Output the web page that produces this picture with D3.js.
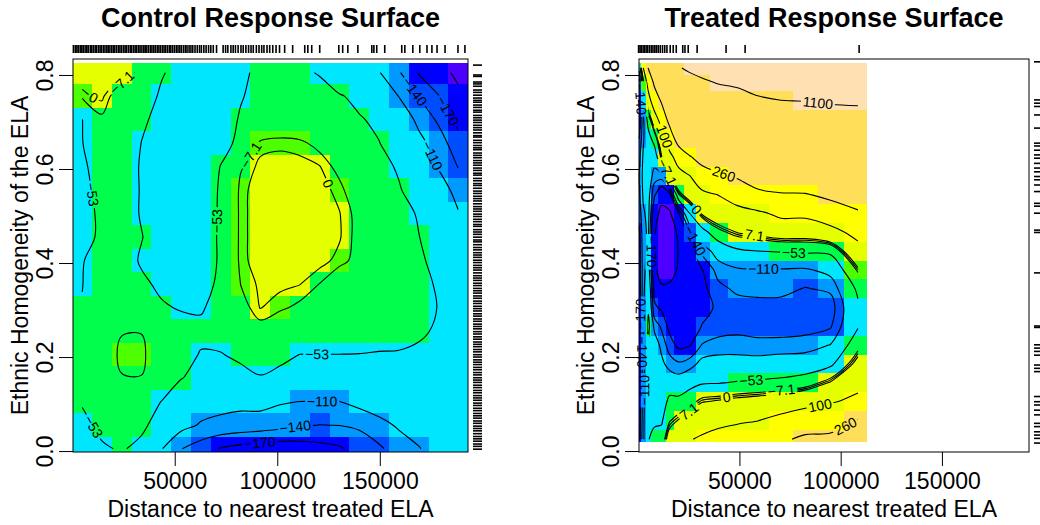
<!DOCTYPE html>
<html lang="en">
  <head>
    <meta charset="utf-8" />
    <title>Control and Treated Response Surfaces</title>
    <script src="https://d3js.org/d3.v7.min.js"></script>
    <style type="text/css">
      body { margin: 0; background: #fff; }
      svg { display: block; }
    </style>
  </head>
  <body>
    <script type="text/javascript">
      // contour levels drawn as lines, and the breaks of the colour bands
      const levels = [-230, -170, -140, -110, -53, -7.1, 0, 7.1, 100, 260, 1100];
      const breaks = [-230, -170, -140, -110, -53, -7.1, 0, 100, 260, 1100];
      const colours = ["#4D00FF", "#0000FF", "#004DFF", "#0099FF", "#00E6FF", "#00FF4D",
                       "#4DFF00", "#E6FF00", "#FFFF00", "#FFDE59", "#FFE0B3"];

      const xTicks = [50000, 100000, 150000];
      const yTicks = [0, 0.2, 0.4, 0.6, 0.8];

      // Control surface: grid columns (distance), rows (homogeneity, top to bottom)
      const controlX = [4900, 14500, 24200, 33800, 43500, 53100, 62800, 72400, 82100, 91700,
                        101400, 111000, 120700, 130300, 140000, 149600, 159300, 168900, 178600, 188200];
      const controlY = [0.805, 0.755, 0.705, 0.655, 0.605, 0.555, 0.505, 0.455, 0.405,
                        0.355, 0.305, 0.255, 0.205, 0.155, 0.105, 0.055, 0.005];
      const controlZ = [
        [5, 4, 2.5, -12, -50, -65, -72, -70, -60, -45, -30, -45, -56, -80, -100, -108, -137, -172, -205, -245],
        [-2, 2.5, -20, -35, -58, -68, -75, -72, -56, -40, -30, -30, -38, -50, -62, -80, -111, -141, -168, -215],
        [-53.5, -10, -25, -48, -62, -72, -78, -75, -49, -35, -25, -25, -30, -40, -50, -60, -85, -118, -145, -180],
        [-54, -28, -30, -53.5, -64, -74, -80, -65, -45, -4, -2, -4, -12, -28, -40, -52, -70, -100, -125, -158],
        [-58, -40, -35, -56, -68, -76, -80, -52, -9, 3, 4, 3.5, 0.5, -12, -30, -42, -57, -85, -112, -141],
        [-60, -45, -38, -55, -68, -77, -80, -48, -2.5, 4, 5, 5, 4, -3, -20, -35, -50, -70, -95, -120],
        [-62, -48, -40, -55, -68, -78, -80, -47, -2.5, 4.5, 5.5, 5.5, 4.5, 0.5, -12, -30, -40, -56, -80, -108],
        [-62, -48, -40, -52, -66, -78, -80, -46, -2.5, 4.5, 5.5, 5, 4.5, 1, -12, -30, -38, -52, -70, -90],
        [-54, -45, -40, -56, -66, -76, -78, -47, -2.5, 4, 5, 4.5, 3.5, -3, -12, -28, -36, -48, -62, -80],
        [-53.5, -40, -38, -48, -58, -68, -68, -45, -7, 2, 2.5, 0.3, -7.5, -20, -28, -32, -38, -45, -56, -70],
        [-52, -35, -33, -45, -50, -55, -56, -42, -14, 0.5, -5, -10, -15, -20, -25, -30, -34, -42, -54, -62],
        [-40, -28, -8.5, -8, -38, -42, -46, -38, -28, -14, -20, -25, -28, -30, -32, -35, -40, -47, -58, -66],
        [-38, -25, -1.5, -1, -30, -42, -55, -55, -45, -40, -45, -53.5, -53.5, -53.5, -54, -56, -56, -60, -65, -70],
        [-45, -30, -8.5, -8, -35, -52, -62, -68, -66, -55, -62, -66, -70, -70, -70, -72, -75, -78, -80, -80],
        [-50, -35, -25, -38, -53.5, -75, -95, -100, -102, -100, -107, -110.5, -110.5, -110.5, -100, -92, -85, -75, -70, -68],
        [-62, -45, -38, -46, -68, -100, -113, -118, -122, -125, -130, -138, -140.5, -139.5, -135, -120, -106, -95, -85, -80],
        [-62, -57, -50, -62, -108, -139, -155, -172, -180, -185, -188, -185, -180, -174, -158, -145, -125, -112, -95, -85]
      ];

      // Treated surface
      const treatedX = [500, 2500, 5000, 8000, 11500, 15500, 20000, 25500, 31500, 39500,
                        49000, 59000, 70500, 82500, 95000, 108500];
      const treatedY = [0.815, 0.785, 0.745, 0.705, 0.665, 0.625, 0.585, 0.545, 0.505, 0.465, 0.425,
                        0.385, 0.345, 0.305, 0.265, 0.225, 0.185, 0.145, 0.105, 0.065, 0.025];
      const treatedZ = [
        [-100, 100, 265, 400, 650, 850, 1080, 1150, 1200, 1230, 1250, 1290, 1290, 1280, 1250, 1250],
        [-150, -5, 150, 290, 480, 650, 920, 1000, 1060, 1120, 1150, 1220, 1240, 1230, 1220, 1200],
        [-175, -80, 50, 170, 275, 460, 720, 800, 880, 936, 987, 1055, 1095, 1105, 1130, 1125],
        [-185, -118, -30, 40, 150, 310, 530, 620, 690, 754, 810, 883, 917, 934, 966, 1030],
        [-170, -115, -75, -30, 40, 170, 340, 430, 510, 573, 633, 716, 749, 763, 800, 868],
        [-150, -105, -85, -90, 3, 65, 150, 245, 325, 392, 455, 546, 577, 590, 632, 704],
        [-140, -100, -85, -125, -125, 3, 60, 97, 176, 226, 278, 377, 406, 416, 464, 539],
        [-145, -105, -95, -165, -205, -185, -10, 36, 74, 101, 147, 208, 241, 247, 297, 375],
        [-160, -115, -100, -200, -250, -240, -172, -55, 11, 43, 65, 79, 121, 122, 170, 231],
        [-175, -120, -104, -225, -268, -255, -222, -145, -75, -20, 8, 20, 35, 33, 61, 134],
        [-185, -122, -100, -228, -272, -258, -228, -185, -132, -93, -62, -54, -50, -46, -43, 60],
        [-190, -122, -88, -215, -258, -245, -225, -205, -172, -128, -116, -114, -114, -116, -97, -2],
        [-195, -120, -75, -180, -220, -222, -220, -215, -180, -150, -133, -130, -131, -142, -134.5, -43.5],
        [-195, -118, -60, -165, -175, -200, -212, -212, -185, -163, -155, -152, -152, -159, -155, -62],
        [-190, -118, -40, -120, -145, -180, -200, -200, -168, -154, -152, -156, -155, -151, -143, -57],
        [-190, -120, -60, -85, -120, -155, -178, -172, -138, -129, -125, -129, -129, -127, -108, -20],
        [-195, -122, -65, -80, -100, -125, -135, -125, -97, -92, -95, -95, -88, -83.5, -63, 25],
        [-200, -122, -65, -78, -90, -80, -88, -70, -57, -55, -49, -45, -40, -27, 12, 66],
        [-200, -122, -62, -75, -80, -40, -38, -20, 5, 12, 22, 29, 42, 62, 90, 130],
        [-190, -120, -58, -60, -60, -10, 10, 35, 58, 70, 85, 98, 130, 170, 210, 265],
        [-180, -118, -55, -40, -30, 30, 60, 95, 113, 140, 160, 180, 235, 290, 285, 300]
      ];

      // rugs of the observed units
      const controlRugX = [600, 1500, 2300, 3000, 3900, 4700, 5400, 6300, 7100, 7800, 8800, 9500, 10300,
        11200, 11900, 12800, 13600, 14300, 15200, 16000, 16900, 17600, 18400, 19300, 20100, 20800, 21700,
        22600, 23300, 24100, 25000, 25800, 26500, 27400, 28300, 29000, 29900, 30700, 31500, 32400, 33100,
        34000, 34900, 35600, 36400, 37300, 38200, 38900, 39800, 40600, 41500, 42300, 43100, 44000, 44800,
        45600, 46500, 47400, 48100, 49000, 49900, 50800, 51600, 52500, 53300, 54300, 55200, 56000, 57000,
        57900, 58800, 59900, 61000, 62100, 63000, 64200, 65300, 66500, 67600, 68800, 70400,
        73600, 74800, 75900, 77400, 78500, 79600, 80900, 82300, 83400, 84700, 86000, 87200, 88300, 89800,
        91100, 92400, 93500, 95000, 96300, 97800, 99400, 101100, 103600, 107500, 113400, 114900, 116800,
        120700, 130000, 131900, 134400, 139300, 146100, 147100, 148500, 152400, 160700, 162200, 166100,
        169500, 173000, 175400, 177900, 181800, 188100, 191500];
      const controlRugY = [0.821, 0.800, 0.797, 0.785, 0.781, 0.776, 0.768, 0.763, 0.757, 0.751, 0.746,
        0.742, 0.736, 0.731, 0.725, 0.721, 0.714, 0.709, 0.704, 0.699, 0.693, 0.688, 0.683, 0.677, 0.671,
        0.668, 0.661, 0.656, 0.650, 0.645, 0.641, 0.634, 0.629, 0.624, 0.618, 0.613, 0.608, 0.602, 0.597,
        0.591, 0.587, 0.580, 0.575, 0.569, 0.565, 0.559, 0.553, 0.548, 0.542, 0.537, 0.532, 0.526, 0.520,
        0.515, 0.510, 0.504, 0.499, 0.493, 0.488, 0.482, 0.478, 0.471, 0.466, 0.461, 0.455, 0.449, 0.445,
        0.439, 0.433, 0.428, 0.422, 0.417, 0.412, 0.406, 0.401, 0.395, 0.390, 0.385, 0.379, 0.373, 0.368,
        0.363, 0.357, 0.352, 0.346, 0.341, 0.336, 0.330, 0.325, 0.319, 0.314, 0.308, 0.303, 0.298, 0.292,
        0.287, 0.281, 0.276, 0.270, 0.265, 0.260, 0.254, 0.249, 0.243, 0.238, 0.232, 0.227, 0.222, 0.216,
        0.211, 0.205, 0.200, 0.194, 0.189, 0.184, 0.178, 0.173, 0.167, 0.162, 0.156, 0.151, 0.146, 0.140,
        0.135, 0.129, 0.124, 0.118, 0.113, 0.108, 0.102, 0.097, 0.091, 0.086, 0.080, 0.075, 0.070, 0.064,
        0.059, 0.053, 0.048, 0.043, 0.037, 0.031, 0.026, 0.021, 0.015, 0.010, 0.004];
      const treatedRugX = [200, 900, 1500, 2400, 3100, 3900, 4700, 5600, 6500, 7300, 8200, 9000, 9900,
        10900, 12000, 13100, 14200, 15800, 17300, 18800, 22000, 23100, 24700, 29100, 43400, 52800, 109100];
      const treatedRugY = [0.828, 0.747, 0.740, 0.733, 0.715, 0.687, 0.655, 0.649, 0.640, 0.630, 0.623,
        0.612, 0.602, 0.594, 0.584, 0.577, 0.566, 0.552, 0.527, 0.521, 0.506, 0.470, 0.465, 0.379, 0.266,
        0.263, 0.226, 0.219, 0.212, 0.204, 0.183, 0.176, 0.169, 0.116, 0.105, 0.098, 0.087, 0.077, 0.059,
        0.052, 0.041, 0.034, 0.027, 0.017];

      const w = 1040;
      const h = 525;
      const font = '"Liberation Sans", Arial, Helvetica, sans-serif';
      const boxTop = 59;
      const boxBottom = 452;

      const colour = d3.scaleThreshold().domain(breaks).range(colours);
      const fmt = function (v) {
        return (v < 0 ? "\u2212" : "") + Math.abs(v);
      };

      const svg = d3.select("body").append("svg").attr("width", w).attr("height", h);
      const defs = svg.append("defs");

      const openLine = d3.line().curve(d3.curveCatmullRom.alpha(0.5));
      const closedLine = d3.line().curve(d3.curveCatmullRomClosed.alpha(0.5));

      // cut a contour ring at the grid border into open iso-lines
      function splitRing(ring, n, m) {
        let pts = ring.slice();
        const last = pts[pts.length - 1];
        if (pts.length > 1 && last[0] === pts[0][0] && last[1] === pts[0][1]) pts.pop();
        pts = pts.filter(function (p, i) {
          const q = pts[(i + pts.length - 1) % pts.length];
          return i === 0 || p[0] !== q[0] || p[1] !== q[1];
        });
        const onBorder = function (p) {
          return p[0] <= 0 || p[0] >= n || p[1] <= 0 || p[1] >= m;
        };
        const k = pts.findIndex(onBorder);
        if (k < 0) return [{ pts: pts, closed: true }];
        const rot = pts.slice(k).concat(pts.slice(0, k));
        const out = [];
        let cur = [];
        rot.forEach(function (p) {
          if (onBorder(p)) {
            if (cur.length > 1) out.push({ pts: cur, closed: false });
            cur = [];
          } else cur.push(p);
        });
        if (cur.length > 1) out.push({ pts: cur, closed: false });
        return out;
      }

      function textWidth(t, size) {
        const tmp = svg.append("text").attr("font-family", font).attr("font-size", size).text(t);
        const wd = tmp.node().getComputedTextLength();
        tmp.remove();
        return wd;
      }

      function drawPanel(p) {
        const x = d3.scaleLinear().domain([400, 193000]).range([p.left, p.right]);
        const y = d3.scaleLinear().domain([-0.002, 0.834]).range([boxBottom, boxTop]);
        const n = p.xs.length;
        const m = p.ys.length;
        const g = svg.append("g");

        // image cells
        const xe = [p.xExtent[0]];
        for (let i = 1; i < n; i++) xe.push((p.xs[i - 1] + p.xs[i]) / 2);
        xe.push(p.xExtent[1]);
        const ye = [p.yExtent[1]];
        for (let j = 1; j < m; j++) ye.push((p.ys[j - 1] + p.ys[j]) / 2);
        ye.push(p.yExtent[0]);
        const cells = [];
        p.z.forEach(function (row, j) {
          row.forEach(function (v, i) {
            cells.push({ i: i, j: j, v: v });
          });
        });
        g.append("g")
          .selectAll("rect")
          .data(cells)
          .join("rect")
          .attr("x", (d) => x(xe[d.i]))
          .attr("width", (d) => x(xe[d.i + 1]) - x(xe[d.i]))
          .attr("y", (d) => y(ye[d.j]))
          .attr("height", (d) => y(ye[d.j + 1]) - y(ye[d.j]))
          .attr("fill", (d) => colour(d.v))
          .attr("shape-rendering", "crispEdges");

        // contour lines
        const gx = d3.scaleLinear().domain(d3.range(n)).range(p.xs);
        const gy = d3.scaleLinear().domain(d3.range(m)).range(p.ys);
        const toPx = (q) => [x(gx(q[0] - 0.5)), y(gy(q[1] - 0.5))];
        const contours = d3.contours().size([n, m]).thresholds(levels)(p.z.flat());
        const lines = [];
        contours.forEach(function (c) {
          c.coordinates.forEach(function (poly) {
            poly.forEach(function (ring) {
              splitRing(ring, n, m).forEach(function (l) {
                lines.push({ value: c.value, closed: l.closed, pts: l.pts.map(toPx) });
              });
            });
          });
        });

        const mask = defs.append("mask").attr("id", "gap" + p.id)
          .attr("maskUnits", "userSpaceOnUse")
          .attr("x", 0).attr("y", 0).attr("width", w).attr("height", h);
        mask.append("rect").attr("width", w).attr("height", h).attr("fill", "#fff");

        const paths = g.append("g")
          .attr("mask", "url(#gap" + p.id + ")")
          .selectAll("path")
          .data(lines)
          .join("path")
          .attr("d", (d) => (d.closed ? closedLine : openLine)(d.pts))
          .attr("fill", "none")
          .attr("stroke", "#000")
          .attr("stroke-width", 1.1);

        // labels at the flattest part of each line
        const placed = [];
        const labelSize = 14;
        paths.each(function (d) {
          const node = this;
          const L = node.getTotalLength();
          const lw = textWidth(fmt(d.value), labelSize) + 4;
          if (L < (d.closed ? 5 : 1.5) * lw) return;
          const step = 2;
          const k = Math.ceil(lw / step);
          const s = d3.range(0, L, step).map((t) => node.getPointAtLength(t));
          const cands = [];
          for (let a = 0; a + k < s.length; a++) {
            const p0 = s[a], p1 = s[a + k];
            const dx = p1.x - p0.x, dy = p1.y - p0.y;
            const len = Math.hypot(dx, dy) || 1;
            let dev = 0;
            for (let b = a + 1; b < a + k; b++) {
              dev = Math.max(dev, Math.abs((s[b].x - p0.x) * dy - (s[b].y - p0.y) * dx) / len);
            }
            const mid = (a + k / 2) * step;
            cands.push({
              c: s[a + Math.round(k / 2)],
              ang: (Math.atan2(dy, dx) * 180) / Math.PI,
              score: dev + 0.5 * Math.abs(mid / L - 0.5),
              w: lw
            });
          }
          cands.sort((a, b) => a.score - b.score);
          const best = cands.find(function (q) {
            return placed.every(function (o) {
              return Math.hypot(o.c.x - q.c.x, o.c.y - q.c.y) > (o.w + q.w) / 2 + 2;
            });
          });
          if (!best) return;
          let ang = best.ang;
          if (ang > 90) ang -= 180;
          if (ang <= -90) ang += 180;
          placed.push(best);
          const tf = "translate(" + best.c.x + "," + best.c.y + ") rotate(" + ang + ")";
          mask.append("rect")
            .attr("x", -lw / 2).attr("y", -7).attr("width", lw).attr("height", 14)
            .attr("fill", "#000").attr("transform", tf);
          g.append("text")
            .attr("transform", tf)
            .attr("text-anchor", "middle")
            .attr("dy", "0.35em")
            .attr("font-family", font)
            .attr("font-size", labelSize)
            .attr("fill", "#000")
            .text(fmt(d.value));
        });

        // box
        svg.append("rect")
          .attr("x", p.left).attr("y", boxTop)
          .attr("width", p.right - p.left).attr("height", boxBottom - boxTop)
          .attr("fill", "none").attr("stroke", "#000").attr("stroke-width", 1);

        // axes
        const ax = svg.append("g")
          .attr("transform", "translate(0," + boxBottom + ")")
          .call(d3.axisBottom(x).tickValues(xTicks).tickSize(14).tickPadding(7).tickFormat(d3.format("d")));
        ax.select(".domain").remove();
        ax.attr("font-size", 23).attr("font-family", font);
        ax.selectAll("text").attr("fill", "#000");

        const ay = svg.append("g")
          .attr("transform", "translate(" + p.left + ",0)")
          .call(d3.axisLeft(y).tickValues(yTicks).tickSize(14).tickFormat(d3.format(".1f")));
        ay.select(".domain").remove();
        ay.attr("font-size", 23).attr("font-family", font);
        ay.selectAll("text")
          .attr("x", null).attr("dy", null)
          .attr("y", -20)
          .attr("transform", "rotate(-90)")
          .attr("text-anchor", "middle")
          .attr("fill", "#000");

        // rugs
        svg.append("g").selectAll("line").data(p.rugX).join("line")
          .attr("x1", (d) => x(d)).attr("x2", (d) => x(d))
          .attr("y1", 45).attr("y2", 53)
          .attr("stroke", "#000").attr("stroke-width", 1.6);
        svg.append("g").selectAll("line").data(p.rugY).join("line")
          .attr("x1", p.right + 5).attr("x2", p.right + 14)
          .attr("y1", (d) => y(d)).attr("y2", (d) => y(d))
          .attr("stroke", "#000").attr("stroke-width", 1.6);

        // titles
        svg.append("text")
          .attr("x", (p.left + p.right) / 2).attr("y", 27)
          .attr("text-anchor", "middle")
          .attr("font-family", font).attr("font-weight", "bold").attr("font-size", 27)
          .text(p.title);
        svg.append("text")
          .attr("x", (p.left + p.right) / 2).attr("y", 517)
          .attr("text-anchor", "middle")
          .attr("font-family", font).attr("font-size", 23)
          .text("Distance to nearest treated ELA");
        svg.append("text")
          .attr("transform", "translate(" + (p.left - 45) + "," + (boxTop + boxBottom) / 2 + ") rotate(-90)")
          .attr("text-anchor", "middle")
          .attr("font-family", font).attr("font-size", 23)
          .text("Ethnic Homogeneity of the ELA");
      }

      drawPanel({
        id: "c", title: "Control Response Surface", left: 73, right: 468,
        xs: controlX, ys: controlY, z: controlZ,
        xExtent: [400, 193000], yExtent: [-0.002, 0.8255],
        rugX: controlRugX, rugY: controlRugY
      });
      drawPanel({
        id: "t", title: "Treated Response Surface", left: 639, right: 1029,
        xs: treatedX, ys: treatedY, z: treatedZ,
        xExtent: [400, 113000], yExtent: [0.019, 0.8255],
        rugX: treatedRugX, rugY: treatedRugY
      });
    </script>
  </body>
</html>
